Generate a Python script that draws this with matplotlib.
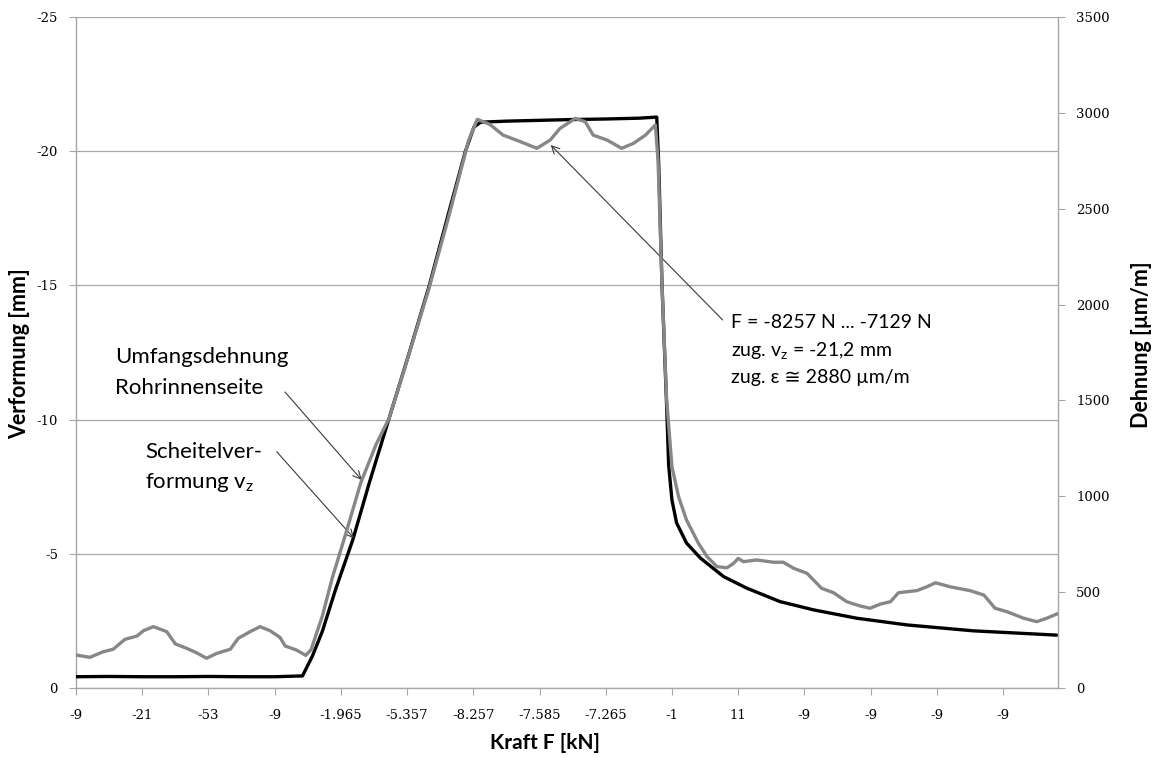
import matplotlib
matplotlib.use('Agg')
import matplotlib.pyplot as plt
from matplotlib.ticker import FuncFormatter

plt.rcParams['axes.unicode_minus'] = False
plt.rcParams['mathtext.fontset'] = 'custom'
plt.rcParams['mathtext.rm'] = 'Lato'

# ---------------- data ----------------
# x tick labels of the category axis (force F in kN)
x_labels = ['-9', '-21', '-53', '-9', '-1.965', '-5.357', '-8.257', '-7.585',
            '-7.265', '-1', '11', '-9', '-9', '-9', '-9']
x_end = 14.83  # axis end in category units

# Scheitelverformung v_z [mm] (left axis)
vz_x = [0.0, 0.5, 1.0, 1.5, 2.0, 2.5, 3.0, 3.42, 3.57, 3.72, 3.92, 4.18, 4.43,
        4.73, 5.03, 5.33, 5.63, 5.88, 6.01, 6.11, 6.5, 7.0, 7.5, 8.0, 8.5,
        8.77, 8.80, 8.85, 8.92, 8.95, 9.0, 9.07, 9.22, 9.43, 9.78, 10.13,
        10.63, 11.14, 11.79, 12.55, 13.55, 14.81]
vz_y = [-0.42, -0.43, -0.42, -0.42, -0.43, -0.42, -0.42, -0.45, -1.19, -2.11,
        -3.67, -5.52, -7.65, -10.06, -12.47, -14.95, -17.72, -19.99, -20.9,
        -21.08, -21.12, -21.15, -21.18, -21.2, -21.23, -21.27, -19.5, -15.0,
        -10.5, -8.3, -7.0, -6.15, -5.4, -4.84, -4.15, -3.72, -3.22, -2.91,
        -2.6, -2.35, -2.13, -1.97]

# Umfangsdehnung Rohrinnenseite [um/m] (right axis)
eps_x = [0.0, 0.21, 0.41, 0.56, 0.74, 0.92, 1.02, 1.17, 1.37, 1.5, 1.67, 1.82,
         1.97, 2.13, 2.33, 2.45, 2.63, 2.78, 2.93, 3.08, 3.16, 3.33, 3.47,
         3.55, 3.72, 3.87, 4.08, 4.3, 4.53, 4.73, 4.98, 5.33, 5.63, 5.93,
         6.06, 6.25, 6.45, 6.71, 6.96, 7.16, 7.31, 7.54, 7.69, 7.81, 8.02,
         8.24, 8.42, 8.6, 8.75, 8.79, 8.85, 8.92, 9.0, 9.1, 9.22, 9.4, 9.53,
         9.68, 9.83, 9.93, 10.0, 10.08, 10.28, 10.53, 10.68, 10.84, 11.04,
         11.26, 11.44, 11.64, 11.84, 11.99, 12.15, 12.3, 12.42, 12.7, 12.85,
         12.98, 13.2, 13.5, 13.71, 13.88, 14.06, 14.31, 14.51, 14.66, 14.84]
eps_y = [172, 160, 189, 202, 254, 271, 299, 320, 294, 230, 207, 184,
         155, 181, 202, 259, 294, 320, 299, 264, 219, 198, 170,
         200, 375, 574, 812, 1070, 1269, 1408, 1686, 2083, 2460, 2857,
         2966, 2940, 2884, 2850, 2815, 2858, 2919, 2971, 2954, 2884, 2858,
         2815, 2841, 2884, 2937, 2750, 2100, 1502, 1154, 998, 876, 755, 685,
         633, 627, 650, 676, 659, 668, 656, 656, 624, 598,
         520, 497, 450, 428, 416, 438, 450, 497, 508, 528,
         549, 528, 508, 485, 416, 398, 364, 346, 364, 390]

left_ticks = [0, -5, -10, -15, -20, -25]
right_ticks = [0, 500, 1000, 1500, 2000, 2500, 3000, 3500]

# ---------------- figure ----------------
W, H = 1157, 758
fig = plt.figure(figsize=(W / 100, H / 100), dpi=100)
L, R, T, B = 76, 1058, 17, 688
ax = fig.add_axes([L / W, (H - B) / H, (R - L) / W, (B - T) / H])

spine_c = '#a6a6a6'
tick_font = dict(family='DejaVu Serif', size=9.5)
text_fam = ['Lato', 'DejaVu Sans']

ax.plot(vz_x, vz_y, color='black', lw=2.4, solid_joinstyle='round',
        solid_capstyle='round', zorder=3)
ax.set_xlim(0, x_end)
ax.set_ylim(0, -25)
ax.set_yticks(left_ticks)
ax.yaxis.set_major_formatter(FuncFormatter(lambda v, p: f'{int(round(v))}'))
ax.set_xticks(range(len(x_labels)))
ax.set_xticklabels(x_labels)
ax.yaxis.grid(True, color='#a8a8a8', lw=0.9)
ax.set_axisbelow(True)

ax2 = ax.twinx()
ax2.plot(eps_x, eps_y, color='#878787', lw=2.4, solid_joinstyle='round',
         solid_capstyle='round', zorder=3)
ax2.set_ylim(0, 3500)
ax2.set_yticks(right_ticks)

for a in (ax, ax2):
    a.spines['top'].set_visible(False)
    for s in ('left', 'right', 'bottom'):
        a.spines[s].set_color(spine_c)
        a.spines[s].set_linewidth(1.0)
ax.spines['right'].set_visible(False)
ax2.spines['left'].set_visible(False)
ax2.spines['bottom'].set_visible(False)

ax.tick_params(axis='y', direction='out', length=5, color=spine_c, pad=8)
ax.tick_params(axis='x', direction='out', length=5, color=spine_c, pad=10)
ax2.tick_params(axis='y', direction='out', length=5, color=spine_c, pad=8)
for lab in ax.get_xticklabels() + ax.get_yticklabels() + ax2.get_yticklabels():
    lab.set_fontfamily(tick_font['family'])
    lab.set_fontsize(tick_font['size'])

# axis titles
ax.set_xlabel('Kraft F [kN]', fontsize=15, fontweight='bold', family=text_fam)
ax.xaxis.set_label_coords((545 - L) / (R - L), -(743 - B) / (B - T))
ax.xaxis.label.set_va('center')
ax.set_ylabel('Verformung [mm]', fontsize=15.5, fontweight='bold', family=text_fam)
ax.yaxis.set_label_coords(-(L - 20) / (R - L), (B - 354) / (B - T))
ax.yaxis.label.set_va('center')
ax2.set_ylabel('Dehnung [µm/m]', fontsize=15.5, fontweight='bold', family=text_fam)
ax2.yaxis.set_label_coords((1141 - L) / (R - L), (B - 345) / (B - T))
ax2.yaxis.label.set_va('center')


def cx(px):
    return (px - L) / ((R - L) / x_end)


def cy(py):
    return -(B - py) / ((B - T) / 25)


arrow = dict(arrowstyle='->', color='#3a3a3a', lw=0.8, shrinkA=0, shrinkB=0,
             mutation_scale=14)
big = 16
small = 14

ax.text(cx(115), cy(357), 'Umfangsdehnung', fontsize=big, family=text_fam,
        ha='left', va='center', zorder=5)
ax.text(cx(115), cy(388), 'Rohrinnenseite', fontsize=big, family=text_fam,
        ha='left', va='center', zorder=5)
ax.annotate('', xy=(cx(361.7), cy(480)), xytext=(cx(285), cy(392)),
            arrowprops=arrow, zorder=5)

ax.text(cx(145), cy(452), 'Scheitelver-', fontsize=big, family=text_fam,
        ha='left', va='center', zorder=5)
ax.text(cx(145), cy(483), r'formung v$_{\mathregular{z}}$', fontsize=big,
        family=text_fam, ha='left', va='center', zorder=5)
ax.annotate('', xy=(cx(354), cy(538.3)), xytext=(cx(276.7), cy(451.7)),
            arrowprops=arrow, zorder=5)

ax.text(cx(731), cy(323), 'F = -8257 N ... -7129 N', fontsize=small,
        family=text_fam, ha='left', va='center', zorder=5)
ax.text(cx(731), cy(351), r'zug. v$_{\mathregular{z}}$ = -21,2 mm', fontsize=small,
        family=text_fam, ha='left', va='center', zorder=5)
ax.text(cx(731), cy(378), 'zug. ε ≅ 2880 µm/m', fontsize=small,
        family=text_fam, ha='left', va='center', zorder=5)
ax.annotate('', xy=(cx(550.7), cy(145)), xytext=(cx(722.7), cy(320)),
            arrowprops=arrow, zorder=5)

fig.savefig('out.png', dpi=100)
